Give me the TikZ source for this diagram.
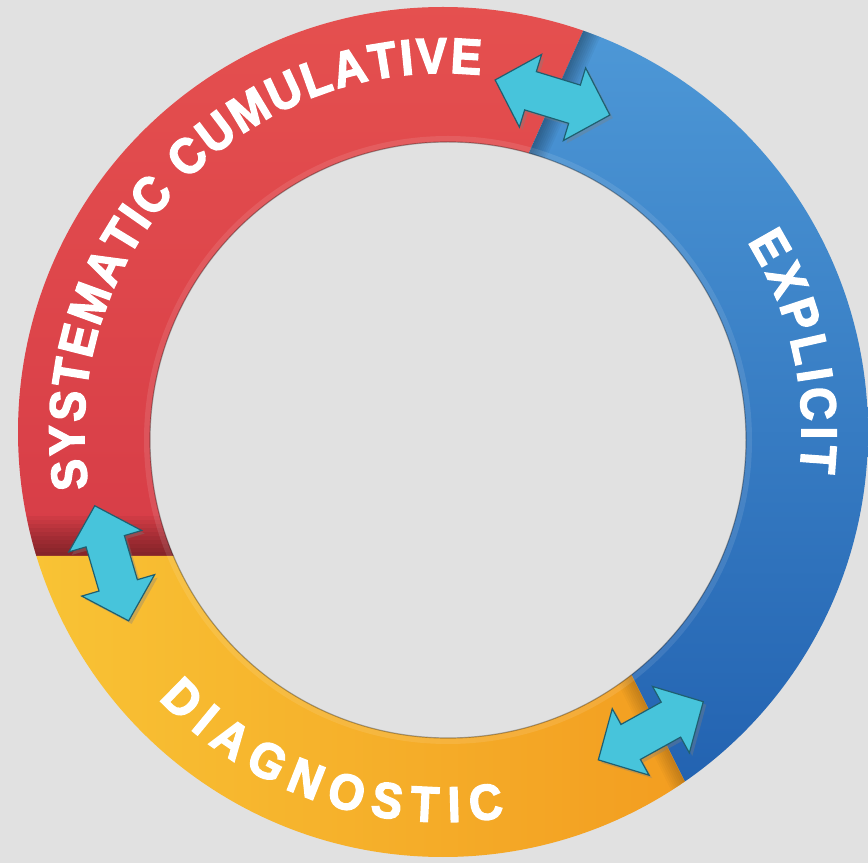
\documentclass[tikz,border=0pt]{standalone}
\usepackage{fontspec}
\setmainfont{Liberation Sans}
\newfontfamily\ringfamily[BoldFeatures={FakeBold=3, FakeStretch=0.92}]{Liberation Sans}
\usetikzlibrary{calc, decorations.text, shadows}

\definecolor{bgGray}{HTML}{E1E1E1}
\definecolor{ringRedTop}{HTML}{E5504F}
\definecolor{ringRed}{HTML}{D73D47}
\definecolor{ringBlueTop}{HTML}{4F9AD8}
\definecolor{ringBlue}{HTML}{3D84CE}
\definecolor{ringBlueDeep}{HTML}{1E5DAD}
\definecolor{ringYellow}{HTML}{F9C536}
\definecolor{ringOrange}{HTML}{F29B1F}
\definecolor{arrowCyan}{HTML}{47C4DB}
\definecolor{arrowEdge}{HTML}{1F5F70}

\newcommand{\ringfont}{\ringfamily\bfseries\fontsize{50}{50}\selectfont}

\tikzset{
	ringlabel/.style={decorate, decoration={text along path, text align=fit to path,
			text color=white, text={#1}}},
	arrowfill/.style={fill=arrowCyan, draw=arrowEdge, line width=1.2pt, line join=miter,
		drop shadow={opacity=0.35, shadow xshift=3pt, shadow yshift=-3pt}},
	swaparrow/.pic={
		\filldraw[arrowfill] (-60,0) -- (-23,38) -- (-23,20) -- (23,20) -- (23,38) -- (60,0)
		-- (23,-38) -- (23,-20) -- (-23,-20) -- (-23,-38) -- cycle;
	},
}

\begin{document}
\begin{tikzpicture}[x=1pt, y=1pt]
	\useasboundingbox (0,0) rectangle (868,863);
	\fill[bgGray] (0,0) rectangle (868,863);
	
	\coordinate (ringC) at (443,431);
	\coordinate (holeC) at (448,423);
	
	% the three coloured parts of the ring
	\begin{scope}[even odd rule]
		\clip (ringC) circle[radius=425] (holeC) circle[radius=298];
		% red
		\begin{scope}
			\clip (0,307) -- (349,307) -- (597,863) -- (0,863) -- cycle;
			\shade[top color=ringRedTop, bottom color=ringRed] (0,307) rectangle (868,863);
			\foreach \w in {8,16,...,80}
			\draw[line width=\w pt, black, opacity=0.045] (0,307) -- (349,307);
		\end{scope}
		% blue
		\begin{scope}
			\clip (597,863) -- (868,863) -- (868,0) -- (725.5,0) -- (514,423) -- (401,423) -- cycle;
			\shade[top color=ringBlueTop, middle color=ringBlue, bottom color=ringBlueDeep] (401,0) rectangle (868,863);
			\foreach \w in {4,8,...,36}
			\draw[line width=\w pt, black, opacity=0.04] (401,423) -- (597,863);
		\end{scope}
		% yellow
		\begin{scope}
			\clip (0,0) -- (725.5,0) -- (572,307) -- (0,307) -- cycle;
			\shade[left color=ringYellow, right color=ringOrange] (0,0) rectangle (725.5,307);
			\foreach \w in {4,8,...,32}
			\draw[line width=\w pt, black, opacity=0.025] (725.5,0) -- (514,423);
		\end{scope}
		\draw[white, opacity=0.1, line width=6pt] (holeC) circle[radius=301];
	\end{scope}
	\draw[black, opacity=0.3, line width=1.2pt] (holeC) circle[radius=298];
	
	% labels along the ring
	\path[ringlabel={|\ringfont|SYSTEMATIC CUMULATIVE}]
	($(ringC)+(189:359)$) arc[start angle=189, end angle=84, radius=359];
	\path[ringlabel={|\ringfont|EXPLICIT}]
	($(ringC)+(32:359)$) arc[start angle=32, end angle=-6.4, radius=359];
	\path[ringlabel={|\ringfont|DIAGNOSTIC}]
	($(ringC)+(223.2:390)$) arc[start angle=223.2, end angle=279, radius=390];
	
	% swap arrows on the joints
	\pic[rotate=-17] at (552.5,765.5) {swaparrow};
	\pic[rotate=106.4] at (111.7,299.7) {swaparrow};
	\pic[rotate=29] at (650.8,132.2) {swaparrow};
\end{tikzpicture}
\end{document}
